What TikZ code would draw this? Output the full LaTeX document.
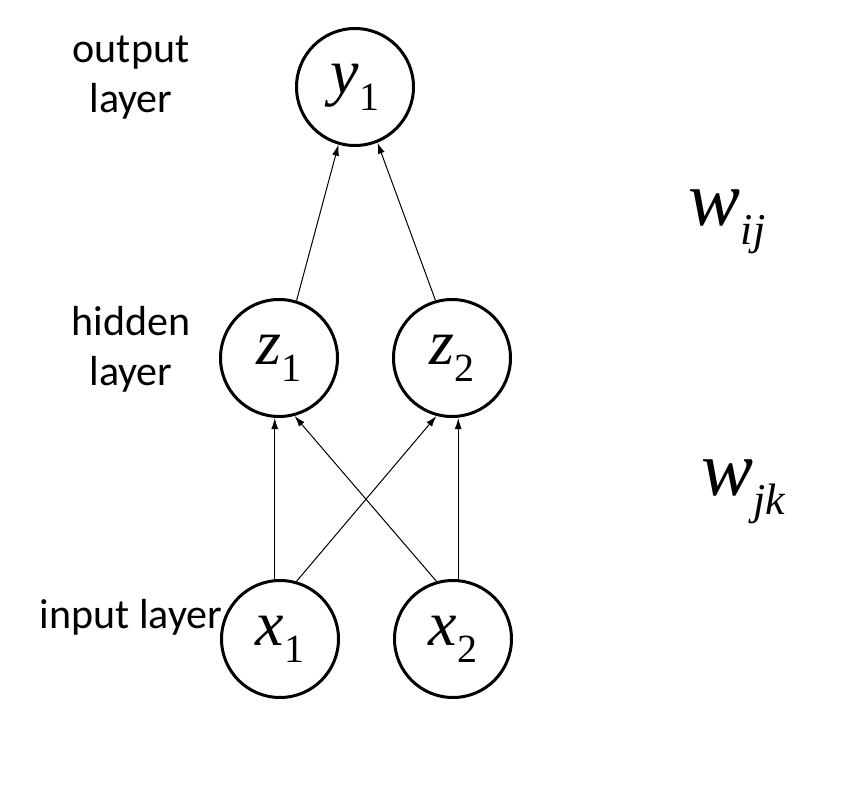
\documentclass[tikz,border=0pt]{standalone}
\usepackage{fontspec}
\setmainfont{Carlito}
\newfontfamily\timesfont{Liberation Serif}
\usetikzlibrary{arrows.meta}

% unit letter with a subscript
\newcommand{\unitvar}[2]{{\timesfont\itshape #1}\raisebox{-0.26em}{\fontsize{40}{42}\timesfont\selectfont #2}}
\newcommand{\weightvar}[2]{{\timesfont\itshape #1}\raisebox{-0.24em}{\fontsize{44}{46}\timesfont\itshape\selectfont #2}}

\tikzset{
    unit/.style={draw, circle, line width=3pt, minimum size=117pt, inner sep=0pt,
        font=\fontsize{64}{66}\selectfont},
    layerlabel/.style={align=center, font=\fontsize{42}{50}\selectfont},
    weightlabel/.style={font=\fontsize{78}{80}\selectfont},
    link/.style={line width=1pt, -{Latex[length=11pt,width=7pt]}}
}

\begin{document}
\begin{tikzpicture}[x=1pt, y=-1pt]
    \useasboundingbox (0,0) rectangle (860,805);

    % units
    \node[unit] (y1) at (355,87) {\unitvar{y}{1}};
    \node[unit] (z1) at (279,358) {\unitvar{z}{1}};
    \node[unit] (z2) at (452,358) {\unitvar{z}{2}};
    \node[unit] (x1) at (280,639) {\unitvar{x}{1}};
    \node[unit] (x2) at (453,639) {\unitvar{x}{2}};

    % connections
    \draw[link] (x1.95) -- (x1.95 |- z1.south);
    \draw[link] (x2.85) -- (x2.85 |- z2.south);
    \draw[link] (x1.74) -- (z2.255);
    \draw[link] (x2.106) -- (z1.285);
    \draw[link] (z1.73) -- (y1.254);
    \draw[link] (z2.106) -- (y1.292);

    % labels
    \node[layerlabel] (outlabel) at (131,78) {output\\layer};
    \node[layerlabel] (hidlabel) at (131,349) {hidden\\layer};
    \node[layerlabel] (inlabel) at (131,617) {input layer};
    \node[weightlabel] (wij) at (727,222) {\weightvar{w}{ij}};
    \node[weightlabel] (wjk) at (743,492) {\weightvar{w}{jk}};
\end{tikzpicture}
\end{document}
